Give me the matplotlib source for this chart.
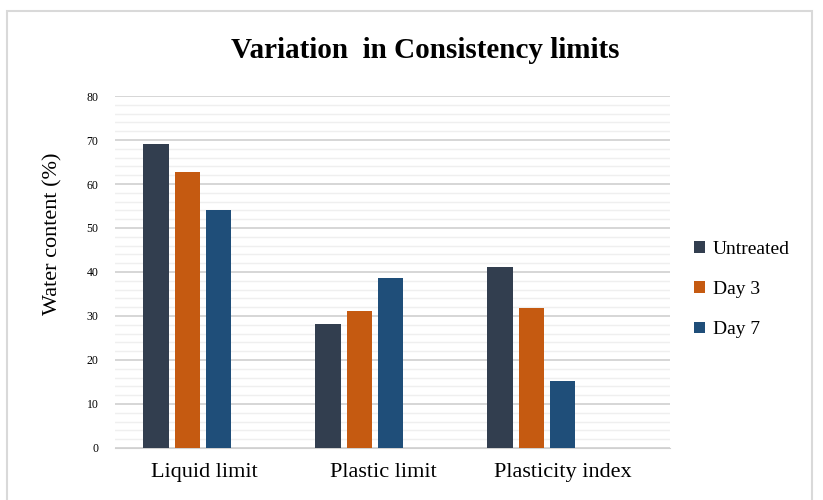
import matplotlib
matplotlib.use('Agg')
import matplotlib.pyplot as plt
import numpy as np
from matplotlib.patches import Rectangle

categories = ['Liquid limit', 'Plastic limit', 'Plasticity index']
series = ['Untreated', 'Day 3', 'Day 7']
untreated = [69.1, 28.2, 41.1]
day3 = [62.7, 31.1, 31.8]
day7 = [54.1, 38.6, 15.2]
colors = ['#323E4F', '#C55A11', '#1F4E79']

plt.rcParams['font.family'] = ['Liberation Serif', 'DejaVu Serif']

fig = plt.figure(figsize=(8.23, 5), dpi=100)
ax = fig.add_axes([0.14, 0.104, 0.674, 0.704])

x = np.arange(len(categories))
slot = 0.182
width = 0.148
for i, (vals, name) in enumerate(zip([untreated, day3, day7], series)):
    ax.bar(x + (i - 1.5) * slot, vals, width, color=colors[i], label=name, zorder=3)

ax.set_ylim(0, 80)
ax.set_xlim(-0.51, 2.715)
ax.set_yticks(range(0, 81, 10))
ax.set_yticks(range(0, 81, 2), minor=True)
ax.grid(axis='y', which='major', color='#d0d0d0', linewidth=1.2, zorder=0)
ax.grid(axis='y', which='minor', color='#efefef', linewidth=1.0, zorder=0)
# labels sit a little right of the bar groups, as in the original
ax.set_xticks(x + np.array([0.01, 0.05, 0.09]))
ax.set_xticklabels(categories, fontsize=16)
ax.tick_params(axis='y', which='both', length=0, labelsize=8.5, pad=12)
ax.tick_params(axis='x', length=0, pad=11)
for s in ['top', 'right', 'left']:
    ax.spines[s].set_visible(False)
ax.spines['bottom'].set_color('#d0d0d0')

ax.set_ylabel('Water content (%)', fontsize=16)
ax.yaxis.set_label_coords(-0.095, 0.61)
fig.text(0.517, 0.9, 'Variation  in Consistency limits', ha='center', va='center',
         fontsize=21, fontweight='bold')

ax.legend(loc='center left', bbox_to_anchor=(1.012, 0.45), frameon=False,
          fontsize=14, handlelength=0.55, handleheight=0.55, labelspacing=1.2,
          handletextpad=0.4)

fig.patches.append(Rectangle((0.009, -0.01), 0.978, 0.988, transform=fig.transFigure,
                             fill=False, edgecolor='#d9d9d9', linewidth=1.5))

plt.savefig('out.png', dpi=100)
